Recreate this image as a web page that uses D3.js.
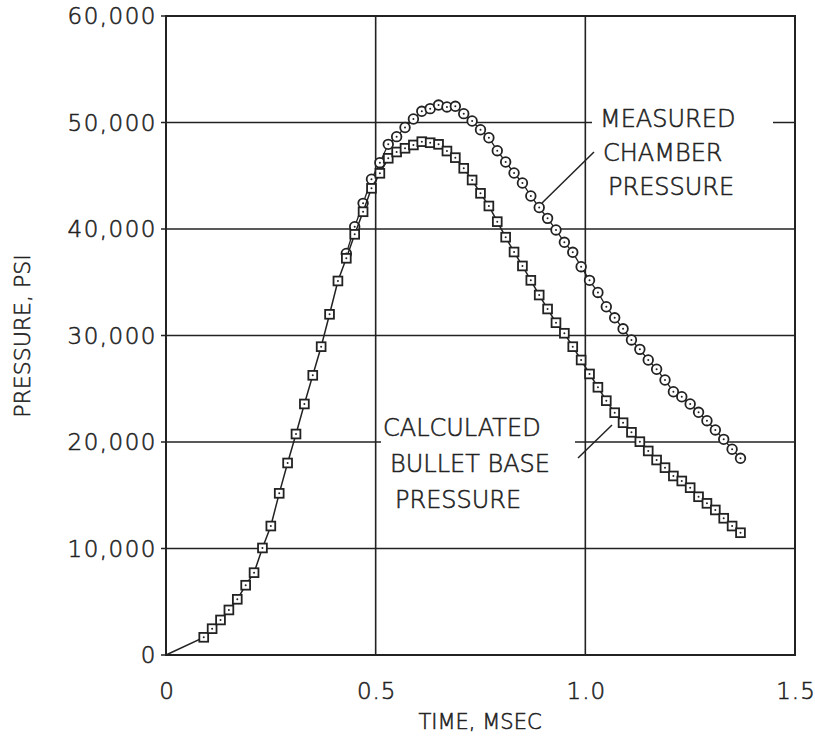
<!DOCTYPE html>
<html>
<head>
<meta charset="utf-8">
<script src="https://cdn.jsdelivr.net/npm/d3@7"></script>
<style>
  body { margin: 0; background: #fff; }
  text { font-family: "DejaVu Sans", sans-serif; fill: #222; font-weight: 300; stroke: #222; stroke-width: 0.55px; }
</style>
</head>
<body>
<div id="chart"></div>
<script>
// time, msec (same sampling for both series)
var times = [0.09, 0.11, 0.13, 0.15, 0.17, 0.19, 0.21, 0.23, 0.25, 0.27,
             0.29, 0.31, 0.33, 0.35, 0.37, 0.39, 0.41, 0.43, 0.45, 0.47,
             0.49, 0.51, 0.53, 0.55, 0.57, 0.59, 0.61, 0.63, 0.65, 0.67,
             0.69, 0.71, 0.73, 0.75, 0.77, 0.79, 0.81, 0.83, 0.85, 0.87,
             0.89, 0.91, 0.93, 0.95, 0.97, 0.99, 1.01, 1.03, 1.05, 1.07,
             1.09, 1.11, 1.13, 1.15, 1.17, 1.19, 1.21, 1.23, 1.25, 1.27,
             1.29, 1.31, 1.33, 1.35, 1.37];

// calculated bullet base pressure, psi (one per time)
var calculated = [1660, 2470, 3290, 4230, 5230, 6550, 7730, 10050, 12110, 15180,
                  18030, 20750, 23570, 26260, 28950, 31990, 35120, 37250, 39500, 41620,
                  43820, 45230, 46640, 47230, 47580, 47890, 48200, 48100, 47950, 47320,
                  46700, 45700, 44600, 43350, 42160, 40690, 39230, 37840, 36530, 35180,
                  33800, 32490, 31200, 30210, 28950, 27700, 26390, 25140, 23880, 22750,
                  21810, 20910, 20030, 19160, 18310, 17590, 16810, 16340, 15710, 14860,
                  14240, 13620, 12840, 12110, 11480];

// measured chamber pressure, psi (starts where it leaves the calculated curve)
var measuredTimes = times.slice(17);
var measured = [37700, 40220, 42410, 44670, 46230, 47950, 48670, 49530, 50330, 51050,
                51300, 51640, 51460, 51520, 50830, 50140, 49320, 48570, 47350, 46290,
                45260, 44320, 43100, 42020, 41000, 39910, 38750, 37810, 36460, 35180,
                34040, 32700, 31660, 30630, 29580, 28700, 27700, 26830, 25820, 24720,
                24250, 23570, 22790, 22000, 21130, 20250, 19320, 18470];

var xTicks = [0, 0.5, 1.0, 1.5];
var xTickLabels = ["0", "0.5", "1.0", "1.5"];
var yTicks = [0, 10000, 20000, 30000, 40000, 50000, 60000];
var yTickLabels = ["0", "10,000", "20,000", "30,000", "40,000", "50,000", "60,000"];

var svgWidth = 815, svgHeight = 737;
var ink = "#222";

var svg = d3.select("#chart").append("svg").attr("width", svgWidth).attr("height", svgHeight);

var x = d3.scaleLinear().domain([0, 1.5]).range([166, 795]);
var y = d3.scaleLinear().domain([0, 60000]).range([655, 16]);

// grid
var grid = svg.append("g");
grid.selectAll(".vgrid").data(xTicks).enter().append("line")
    .attr("x1", function (d) { return x(d); }).attr("x2", function (d) { return x(d); })
    .attr("y1", y(0)).attr("y2", y(60000))
    .attr("stroke", ink).attr("stroke-width", 1.6);
grid.selectAll(".hgrid").data(yTicks).enter().append("line")
    .attr("x1", x(0) - 5).attr("x2", x(1.5))
    .attr("y1", function (d) { return y(d); }).attr("y2", function (d) { return y(d); })
    .attr("stroke", ink).attr("stroke-width", 1.6);
// frame
svg.append("rect").attr("x", x(0)).attr("y", y(60000))
    .attr("width", x(1.5) - x(0)).attr("height", y(0) - y(60000))
    .attr("fill", "none").attr("stroke", ink).attr("stroke-width", 2);

// tick labels
svg.selectAll(".ylab").data(yTicks).enter().append("text")
    .attr("x", 157).attr("y", function (d) { return y(d) + 8; })
    .attr("text-anchor", "end").style("font-size", "23px").style("letter-spacing", "1.5px")
    .text(function (d, i) { return yTickLabels[i]; });
svg.selectAll(".xlab").data(xTicks).enter().append("text")
    .attr("x", function (d) { return x(d) + 1; }).attr("y", 699)
    .attr("text-anchor", "middle").style("font-size", "23px").style("letter-spacing", "1px")
    .text(function (d, i) { return xTickLabels[i]; });

// axis titles
svg.append("text").attr("x", 480).attr("y", 729).attr("text-anchor", "middle")
    .style("font-size", "21px").text("TIME,  MSEC");
svg.append("text").attr("transform", "translate(30,336) rotate(-90)").attr("text-anchor", "middle")
    .style("font-size", "22px").text("PRESSURE,  PSI");

// annotation boxes cut the grid
svg.append("rect").attr("x", 592).attr("y", 100).attr("width", 181).attr("height", 105).attr("fill", "#fff");
svg.append("rect").attr("x", 381).attr("y", 408).attr("width", 194).attr("height", 108).attr("fill", "#fff");

var measLabel = ["MEASURED", "CHAMBER", "PRESSURE"];
var measX = [600, 603, 608];
svg.selectAll(".mlab").data(measLabel).enter().append("text")
    .attr("x", function (d, i) { return measX[i]; })
    .attr("y", function (d, i) { return 127 + i * 34; })
    .style("font-size", "24px").text(function (d) { return d; });

var calcLabel = ["CALCULATED", "BULLET  BASE", "PRESSURE"];
var calcX = [383, 390, 395];
svg.selectAll(".clab").data(calcLabel).enter().append("text")
    .attr("x", function (d, i) { return calcX[i]; })
    .attr("y", function (d, i) { return 436 + i * 36; })
    .style("font-size", "24px").text(function (d) { return d; });

// leader lines
svg.append("line").attr("x1", 594).attr("y1", 152).attr("x2", 542).attr("y2", 203)
    .attr("stroke", ink).attr("stroke-width", 1.5);
svg.append("line").attr("x1", 578).attr("y1", 458).attr("x2", 612).attr("y2", 425)
    .attr("stroke", ink).attr("stroke-width", 1.5);

// series
var calcPts = [[0, 0]].concat(times.map(function (t, i) { return [t, calculated[i]]; }));
var measPts = measuredTimes.map(function (t, i) { return [t, measured[i]]; });
var line = d3.line().x(function (d) { return x(d[0]); }).y(function (d) { return y(d[1]); });

svg.append("path").datum(measPts).attr("d", line)
    .attr("fill", "none").attr("stroke", ink).attr("stroke-width", 1.3);
var circ = svg.selectAll(".meas").data(measPts).enter().append("g")
    .attr("transform", function (d) { return "translate(" + x(d[0]) + "," + y(d[1]) + ")"; });
circ.append("circle").attr("r", 4.8).attr("fill", "#fff").attr("stroke", ink).attr("stroke-width", 1.8);
circ.append("circle").attr("r", 1).attr("fill", ink);

svg.append("path").datum(calcPts).attr("d", line)
    .attr("fill", "none").attr("stroke", ink).attr("stroke-width", 1.5);
var sq = svg.selectAll(".calc").data(calcPts.slice(1)).enter().append("g")
    .attr("transform", function (d) { return "translate(" + x(d[0]) + "," + y(d[1]) + ")"; });
sq.append("rect").attr("x", -4.4).attr("y", -4.4).attr("width", 8.8).attr("height", 8.8)
    .attr("fill", "#fff").attr("stroke", ink).attr("stroke-width", 1.8);
sq.append("circle").attr("r", 1).attr("fill", ink);
</script>
</body>
</html>
